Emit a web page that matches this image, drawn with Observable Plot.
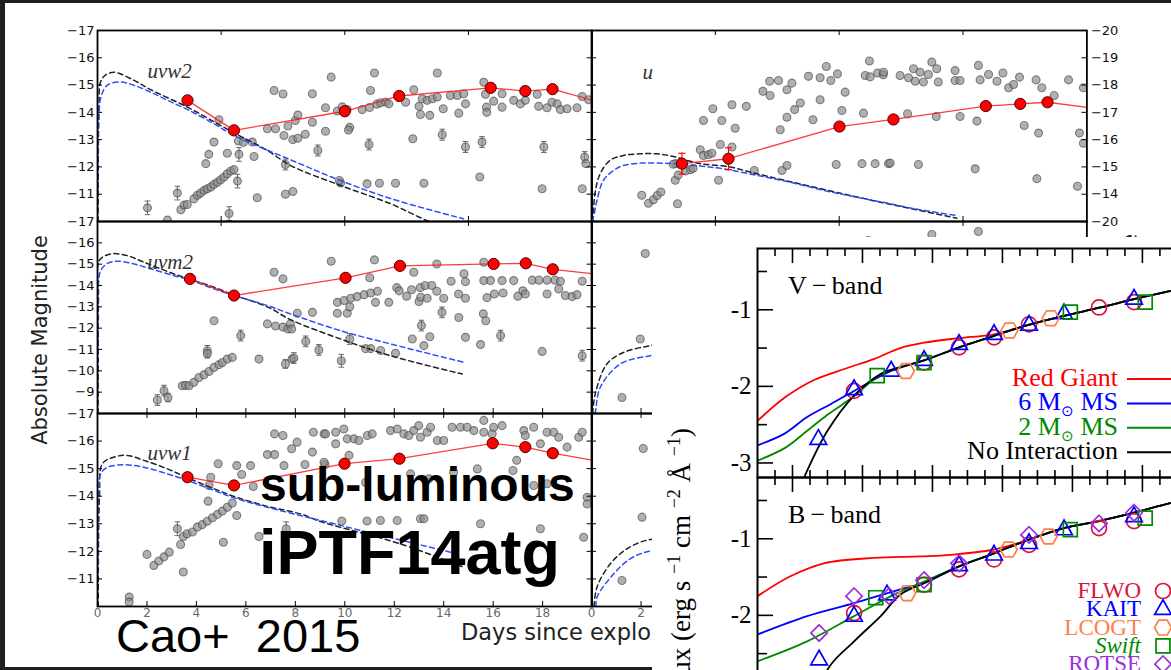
<!DOCTYPE html>
<html>
<head>
<meta charset="utf-8">
<script src="https://cdn.jsdelivr.net/npm/d3@7"></script>
<script src="https://cdn.jsdelivr.net/npm/@observablehq/plot@0.6"></script>
<style>
  html, body { margin:0; padding:0; width:1171px; height:670px; overflow:hidden; background:#1f1f1f; }
  #stage { position:absolute; left:0; top:0; width:1171px; height:670px; overflow:hidden; }
  #slide { position:absolute; left:5px; top:3px; width:1166px; height:664px; background:#fff; z-index:0; }
  #inset { position:absolute; left:652px; top:237px; width:519px; height:433px; background:#fff; z-index:10; }
</style>
</head>
<body>
<div id="stage"><div id="slide"></div><div id="inset"></div></div>
<script>
// ===================== DATA =====================
// Swift UVOT light curves: [days since explosion, absolute magnitude, (error)]
const uvw2Grey = [
[2.02,-10.5,0.25],[2.83,-10.05],[3.23,-11.04,0.25],[3.37,-10.43],[3.5,-10.6],[3.63,-10.62],
[3.9,-10.83],[4.04,-10.96],[4.17,-11.04],[4.31,-11.14],[4.44,-11.2],[4.58,-11.26],[4.71,-11.36],[4.85,-11.44],[4.98,-11.53],[5.12,-11.63],[5.25,-11.75],[5.39,-11.85],[5.52,-11.9],
[4.38,-12.12],[4.5,-12.46],[4.71,-12.91],[4.91,-13.73],[5.25,-12.5],[5.32,-10.29,0.25],[5.66,-11.48,0.25],[5.72,-12.46,0.25],[5.7,-12.95],[5.9,-12.9],[6.26,-12.91],[6.33,-12.38],[6.46,-10.87],
[6.87,-13.4],[7.2,-13.4],[7.14,-14.8],[7.5,-14.67],[7.54,-13.15],[7.7,-13.5],[8.0,-13.7],[7.9,-13.0],[8.1,-13.05],[7.6,-12.09,0.2],[7.6,-11.0],[7.9,-11.1],
[8.1,-13.9],[8.4,-13.2],[8.69,-14.68],[8.69,-13.64],[8.91,-12.6,0.2],[9.22,-14.17],[9.22,-13.31],[9.45,-15.29],[9.7,-14.05],[9.9,-14.2],[10.1,-14.1],[9.83,-11.41],[9.78,-11.5],[10.2,-13.45],[10.15,-13.35],
[10.7,-14.1],[11.0,-14.18],[11.3,-14.3],[11.45,-14.35],[11.65,-14.38],[10.9,-11.38],[10.98,-12.82,0.2],[11.04,-14.8],[11.2,-15.44],[11.4,-11.4],[12.05,-11.4],[13.2,-11.4],
[11.78,-14.31],[12.46,-14.37],[12.79,-14.83],[13.0,-14.22],[13.13,-14.5],[13.33,-14.44],[13.54,-14.5],[13.74,-14.56],[13.98,-14.13],[13.06,-13.92],[13.44,-13.89],[12.75,-13.03],[13.74,-15.44],[13.94,-13.18,0.2],
[14.27,-14.62],[14.55,-14.62],[14.81,-14.68],[14.88,-14.31],[14.61,-13.97],[14.88,-12.73,0.2],[15.46,-11.63],[15.55,-12.91,0.2],[15.62,-15.1],[15.69,-14.66],[15.73,-14.19],[15.74,-14.0],
[16.02,-14.41],[16.36,-14.68],[16.36,-14.19],[16.83,-14.44],[17.1,-14.31],[17.3,-14.44],[17.78,-14.66],[17.84,-14.22],[18.18,-14.17],[18.38,-14.37],[18.59,-14.31],[18.72,-14.1],[18.99,-14.13],[19.39,-14.17],
[18.05,-12.73,0.2],[17.98,-11.2],[19.6,-11.2],[19.6,-14.58],[19.86,-14.46],[19.7,-12.36,0.2],[19.75,-12.12]
];
const uvw2Red = [[3.64,-14.44],[5.52,-13.34],[10.0,-14.04],[12.2,-14.6],[15.9,-14.9],[17.3,-14.78],[18.4,-14.85]];
const uvw2RedTail = [21,-14.2];
const uvw2Black = [[0.02,-10],[0.06,-14.2],[0.12,-15.1],[0.3,-15.35],[0.67,-15.47],[1.48,-15.17],[2.15,-14.83],[3.64,-14.19],[4.85,-13.58],[5.52,-13.25],[6.87,-12.6],[7.81,-12.05],[9.83,-11.32],[11.85,-10.65],[13.3,-10.04],[14,-9.8]];
const uvw2Blue = [[0,-10],[0.02,-12.5],[0.06,-14.0],[0.15,-14.6],[0.4,-15.0],[0.94,-15.11],[1.48,-14.99],[2.15,-14.74],[2.83,-14.44],[3.64,-14.1],[4.71,-13.58],[5.52,-13.15],[7.81,-12.26],[9.83,-11.5],[11.85,-10.84],[14.8,-10.1]];

const uvm2Grey = [
[2.42,-8.63,0.25],[2.69,-9.07,0.25],[2.85,-8.75,0.2],[3.43,-9.3],[3.56,-9.32],[3.7,-9.3],[3.9,-9.46],[4.1,-9.69],[4.31,-9.82],[4.51,-9.97],[4.71,-10.16],[4.91,-10.29],[5.05,-10.39],[5.25,-10.55],[5.45,-10.63],
[4.44,-10.94,0.25],[4.44,-10.8,0.2],[4.71,-12.35],[5.79,-11.65,0.25],[6.53,-10.55],[7.14,-14.62],[7.5,-14.31],[6.87,-12.2],[7.2,-12.1],[7.5,-12.05],[7.7,-11.96],[7.8,-12.2],[7.6,-10.32,0.2],[7.87,-10.55],
[8.08,-12.7],[7.85,-11.96],[8.69,-12.74],[7.94,-10.6,0.25],[8.42,-11.38,0.25],[8.95,-10.98,0.25],[9.45,-15.14],[9.7,-13.21],[9.97,-13.3],[10.24,-13.4],[10.5,-13.48],[10.78,-13.57],[11.05,-13.65],[11.32,-13.73],
[9.7,-12.7],[10.1,-12.7],[10.2,-13.0],[9.86,-10.47,0.3],[10.2,-11.49,0.25],[11.01,-14.36],[11.2,-15.2],[11.24,-13.21],[11.78,-13.21],[10.84,-11.04],[11.05,-11.04],[11.45,-10.95],[12.05,-10.82],
[12.1,-13.9],[12.2,-13.75],[12.5,-13.5],[12.7,-13.8],[13.05,-13.9],[13.25,-14.0],[13.52,-14.0],[12.79,-14.62],[13.0,-13.25],[13.07,-13.45],[13.33,-13.4],[12.73,-11.49],[13.1,-12.12,0.25],[13.2,-11.18],[13.44,-11.6],
[13.72,-15.01],[13.72,-13.73],[13.93,-12.74,0.25],[14.0,-13.4],[14.3,-14.2],[14.88,-14.18],[14.82,-14.55],[14.6,-13.6],[14.88,-13.4],[14.61,-12.5],[14.88,-11.57],[15.49,-11.23],[15.6,-12.67],[15.7,-12.35],
[15.62,-15.09],[15.62,-14.23],[15.89,-14.23],[16.36,-14.23],[16.83,-14.23],[15.75,-13.43],[16.05,-13.6],[16.4,-13.65],[16.3,-11.65,0.25],[17.0,-13.5],[17.2,-13.75],[17.3,-13.6],
[17.58,-14.25],[17.85,-14.25],[18.18,-14.25],[18.5,-14.25],[18.72,-14.2],[18.65,-13.84],[18.92,-13.53],[19.19,-13.48],[19.39,-13.57],[19.6,-14.2],[17.98,-10.91],[18.18,-13.6],[19.6,-10.71,0.25]
];
const uvm2Red = [[3.74,-14.31],[5.52,-13.53],[10.03,-14.36],[12.23,-14.92],[16.02,-15.01],[17.32,-15.04],[18.41,-14.76]];
const uvm2RedTail = [21,-14.43];
const uvm2Black = [[0.02,-8],[0.04,-13.5],[0.07,-15.17],[0.54,-15.48],[1.2,-15.4],[1.88,-15.09],[3.1,-14.54],[4.71,-13.92],[5.52,-13.55],[6.87,-13.0],[7.8,-12.4],[9.83,-11.49],[11.85,-10.71],[14.75,-9.85]];
const uvm2Blue = [[0,-8],[0.02,-11.5],[0.05,-14.23],[0.13,-14.7],[0.4,-15.04],[0.8,-15.14],[1.48,-15.01],[2.15,-14.78],[3.1,-14.46],[3.74,-14.26],[4.71,-13.84],[5.52,-13.53],[6.87,-13.06],[7.8,-12.67],[9.83,-11.88],[11.85,-11.26],[14.81,-10.4]];

const uvw1Grey = [
[1.28,-10.34],[1.28,-10.16],[2.0,-11.89],[2.28,-11.49],[2.48,-11.65],[2.69,-11.8],[2.9,-11.97],[3.23,-12.82,0.25],[3.36,-12.25],[3.47,-11.25],[3.47,-12.54],
[3.62,-12.64],[3.84,-12.7],[4.04,-12.88],[4.24,-12.97],[4.44,-13.09],[4.65,-13.22],[4.85,-13.34],[5.05,-13.46],[5.25,-13.6],[5.45,-13.75],
[4.47,-13.82],[4.51,-14.39],[4.58,-14.69],[4.88,-15.18],[5.09,-12.33],[5.63,-15.11],[5.63,-13.3],[5.83,-14.79],[6.19,-15.11],[6.3,-14.35],[6.53,-12.54],[6.87,-15.51],[7.16,-15.51],[7.16,-16.26],[7.5,-16.2],
[7.54,-15.11],[7.63,-12.82,0.25],[7.85,-15.72],[8.07,-15.96],[8.39,-15.15],[8.69,-15.6],[8.73,-16.32],[9.16,-16.26],[9.2,-15.15],
[9.22,-16.26],[9.63,-16.32],[9.63,-15.9],[9.96,-16.44],[10.1,-16.08],[10.37,-16.08],[10.57,-16.02],[10.91,-16.2],[11.11,-16.26],[11.85,-16.38],[12.12,-16.44],[12.39,-16.26],[12.59,-16.2],[12.79,-16.38],
[12.99,-16.56],[13.06,-16.14],[13.33,-16.32],[13.47,-16.5],[13.74,-16.02],[14.0,-16.02],[14.34,-16.5],[14.68,-16.5],[14.95,-16.5],[15.22,-16.38],[15.62,-16.75],[15.62,-16.32],[15.96,-16.26],[16.02,-16.5],
[16.36,-16.56],[17.24,-16.38],[17.3,-16.2],[17.64,-16.5],[17.91,-15.9],[18.18,-16.32],[18.45,-16.32],[18.65,-16.14],[18.99,-15.78],[19.46,-16.14],[19.6,-16.32],
[9.16,-15.23],[10.17,-15.48],[12.66,-14.81],[13.4,-14.63],[13.06,-13.18],[9.88,-13.1],[10.9,-13.1],[11.44,-13.12],[12.12,-13.12],[13.2,-13.18],[15.49,-13.0],[17.91,-12.82],[19.66,-12.51],
[17.64,-14.39],[18.18,-14.45],[19.8,-13.96],[19.8,-13.72],[16.8,-14.93],[16.95,-15.3],[15.36,-14.99],[14.4,-14.87],[10.84,-14.5]
];
const uvw1Red = [[3.64,-14.69],[5.52,-14.39],[9.99,-15.18],[12.21,-15.36],[15.98,-15.92],[17.3,-15.78],[18.41,-15.56]];
const uvw1RedTail = [21,-15.15];
const uvw1Black = [[0.03,-10],[0.08,-14.0],[0.2,-15.18],[0.67,-15.42],[1.2,-15.48],[1.88,-15.3],[2.83,-14.99],[3.64,-14.67],[4.71,-14.27],[5.52,-13.99],[6.87,-13.63],[8.2,-13.36],[9.02,-13.08],[12.25,-12.27],[14.8,-11.43]];
const uvw1Blue = [[0,-10],[0.02,-12.5],[0.05,-14.09],[0.13,-14.81],[0.4,-15.05],[1.07,-15.14],[1.88,-15.05],[2.83,-14.81],[3.64,-14.57],[4.71,-14.21],[5.52,-13.94],[6.87,-13.6],[8.2,-13.3],[9.02,-13.12],[10.37,-12.82],[14.27,-11.97]];

const uGrey = [
[2.03,-13.96],[2.3,-13.67],[2.5,-13.8],[2.65,-13.95],[2.8,-14.08],[3.47,-13.65],[3.38,-14.51],[3.4,-15.12],[3.3,-15.1],[3.5,-14.7],[3.8,-14.85],[4.0,-14.9],[4.1,-14.95],
[4.39,-15.63],[4.52,-15.42],[4.72,-15.45],[4.86,-15.5],[4.52,-16.7],[4.9,-17.13],[5.26,-16.7],[5.2,-15.82],[5.13,-14.51],[5.67,-17.28],[5.8,-16.42],[5.67,-15.73],[6.25,-17.22],[6.57,-14.87],
[6.92,-17.77],[7.19,-18.14],[7.55,-18.17],[7.21,-17.62],[7.62,-16.36],[7.69,-14.87],[7.89,-15.05],[7.89,-17.83],[8.09,-18.07],[7.89,-16.82],[8.2,-17.1],[8.43,-17.34],[8.76,-18.32],[8.94,-16.73],
[9.23,-18.27],[9.23,-17.46],[9.48,-18.68],[9.66,-18.17],[9.93,-18.41],[9.88,-15.09],[10.11,-17.07],[10.24,-17.74],[10.92,-15.12],[11.45,-15.12],[11.99,-15.12],[10.98,-16.97],[11.22,-18.88],
[11.05,-18.35],[11.25,-18.3],[11.55,-18.44],[11.78,-18.38],[11.79,-18.47],[12.06,-15.14],[12.46,-18.35],[12.8,-18.27],[13.0,-18.6],[13.27,-18.47],[13.07,-18.14],[13.4,-18.11],[13.6,-18.39],
[13.74,-18.84],[13.94,-18.6],[14.0,-18.11],[12.76,-16.95],[13.2,-15.09],[13.92,-16.85],[14.68,-18.53],[14.68,-18.17],[14.88,-18.17],[14.88,-16.85],[15.49,-14.93],[15.56,-16.68],[15.62,-18.72],
[15.69,-18.19],[16.03,-18.39],[16.37,-18.14],[16.61,-18.44],[16.84,-17.9],[17.04,-18.02],[17.28,-18.29],[17.47,-16.52],[17.95,-18.19],[18.18,-17.9],[18.05,-16.24],[17.98,-14.57],[18.68,-17.62],
[19.26,-18.19],[19.62,-14.29],[19.7,-16.24],[19.86,-17.9],[19.86,-15.87]
];
const uRed = [[3.65,-15.12],[5.53,-15.3],[10.01,-16.48],[12.19,-16.74],[15.92,-17.23],[17.31,-17.31],[18.41,-17.37]];
const uRedErr = [[3.65,-15.12,0.38],[5.53,-15.3,0.4]];
const uRedTail = [21,-17.06];
const uBlack = [[0.05,-13],[0.15,-14.08],[0.35,-14.75],[0.75,-15.24],[1.29,-15.42],[1.97,-15.48],[2.64,-15.48],[3.31,-15.38],[4.39,-15.12],[5.6,-15.0],[6.41,-14.81],[8.02,-14.46],[10.71,-13.9],[12.06,-13.63],[14.75,-13.12]];
const uBlue = [[0.03,-13],[0.08,-13.16],[0.22,-13.77],[0.48,-14.51],[0.89,-14.87],[1.29,-15.05],[1.97,-15.14],[2.64,-15.14],[3.31,-15.12],[4.39,-15.03],[5.33,-14.93],[6.68,-14.69],[8.02,-14.44],[9.37,-14.14],[10.71,-13.89],[12.06,-13.65],[13.0,-13.47],[14.75,-13.22]];

// partially hidden panels of the original figure (right column, rows 2 and 3)
const r2Grey = [[11.18,-19.11],[13.74,-19.39],[15.62,-19.53],[2.17,-18.5],[1.23,-11.75],[1.97,-14.49]];
const r2Black = [[0.05,-11],[0.15,-11.91],[0.62,-13.32],[1.29,-13.86],[2.37,-14.18],[3.5,-14.4]];
const r2Blue = [[0.12,-11],[0.15,-11.05],[0.35,-12.22],[1.16,-13.32],[2.37,-13.71],[3.5,-13.9]];
const r3Grey = [[1.23,-13.94],[2.04,-16.24],[2.09,-18.73]];
const r3Black = [[0.1,-13],[0.22,-13.7],[0.76,-14.55],[1.43,-15.09],[2.17,-15.39],[3,-15.5]];
const r3Blue = [[0.18,-13],[0.22,-13.34],[0.9,-14.19],[1.56,-14.73],[2.17,-14.97],[3,-15.1]];

// axis ticks
const dayTicks5 = [5,10,15];
const dayTicks2 = [2,4,6,8,10,12,14,16,18];
const dayLabels = [0,2,4,6,8,10,12,14,16,18];
const dayLabelsVisibleR3 = [0,2];
const magTicks10 = [-17,-16,-15,-14,-13,-12,-11,-10];
const magLabels10 = [-17,-16,-15,-14,-13,-12,-11];
const magTicks8 = [-17,-16,-15,-14,-13,-12,-11,-10,-9,-8];
const magLabels8 = [-17,-16,-15,-14,-13,-12,-11,-10,-9];
const magTicksR13 = [-20,-19,-18,-17,-16,-15,-14,-13];
const magLabelsR13 = [-20,-19,-18,-17,-16,-15,-14];
const magTicksR11 = [-20,-19,-18,-17,-16,-15,-14,-13,-12,-11];
const magLabelsR2Visible = [-20];

// inset (model comparison): [day, log flux]
const vRed   = [[0.5,-2.45],[0.9,-2.14],[1.3,-1.92],[1.75,-1.77],[2.17,-1.64],[2.54,-1.5],[2.88,-1.43],[3.38,-1.37],[3.88,-1.32],[4.36,-1.2],[4.88,-1.08],[5.4,-0.97],[5.88,-0.86],[6.42,-0.75],[6.9,-0.65]];
const vBlue  = [[0.5,-2.77],[0.88,-2.62],[1.21,-2.4],[1.55,-2.23],[1.88,-2.06],[2.41,-1.8],[2.88,-1.66],[3.38,-1.49],[3.88,-1.34],[4.36,-1.2],[4.88,-1.08],[5.4,-0.97],[5.88,-0.86],[6.42,-0.75],[6.9,-0.65]];
const vGreen = [[0.5,-2.97],[0.9,-2.8],[1.21,-2.58],[1.5,-2.37],[1.88,-2.13],[2.26,-1.84],[2.54,-1.75],[2.88,-1.66],[3.38,-1.49],[3.88,-1.34],[4.36,-1.2],[4.88,-1.08],[5.4,-0.97],[5.88,-0.86],[6.42,-0.75],[6.9,-0.65]];
const vBlack = [[1.12,-3.3],[1.21,-3.1],[1.5,-2.58],[1.88,-2.12],[2.26,-1.84],[2.54,-1.75],[2.88,-1.66],[3.38,-1.49],[3.88,-1.34],[4.36,-1.2],[4.88,-1.08],[5.4,-0.97],[5.88,-0.86],[6.42,-0.75],[6.9,-0.65]];
const vFLWO  = [[1.88,-2.06],[2.88,-1.69],[3.38,-1.49],[3.88,-1.36],[4.38,-1.19],[5.38,-0.97],[5.88,-0.9]];
const vKAIT  = [[1.37,-2.69],[1.88,-2.04],[2.41,-1.8],[2.88,-1.66],[3.38,-1.45],[3.88,-1.32],[4.38,-1.2],[4.88,-1.05],[5.88,-0.86]];
const vLCOGT = [[2.62,-1.8],[4.1,-1.27],[4.69,-1.11]];
const vSwift = [[2.21,-1.86],[2.88,-1.69],[4.97,-1.03],[6.04,-0.9]];
const vROTSE = [];

const bRed   = [[0.5,-1.75],[0.97,-1.49],[1.45,-1.32],[2.16,-1.25],[2.83,-1.23],[3.26,-1.21],[3.88,-1.14],[4.21,-1.06],[4.38,-1.01],[4.88,-0.86],[5.38,-0.77],[5.88,-0.66],[6.41,-0.53],[6.9,-0.43]];
const bBlue  = [[0.5,-2.25],[1.21,-2.01],[1.88,-1.84],[2.54,-1.66],[2.88,-1.58],[3.38,-1.36],[3.88,-1.19],[4.38,-1.01],[4.88,-0.86],[5.38,-0.77],[5.88,-0.66],[6.41,-0.53],[6.9,-0.43]];
const bGreen = [[0.5,-2.6],[1.21,-2.34],[1.88,-2.01],[2.45,-1.73],[2.83,-1.58],[3.38,-1.36],[3.88,-1.19],[4.38,-1.01],[4.88,-0.86],[5.38,-0.77],[5.88,-0.66],[6.41,-0.53],[6.9,-0.43]];
const bBlack = [[1.36,-3.3],[1.5,-2.71],[1.88,-2.34],[2.26,-2.01],[2.54,-1.73],[2.88,-1.58],[3.38,-1.36],[3.88,-1.19],[4.38,-1.01],[4.88,-0.86],[5.38,-0.77],[5.88,-0.66],[6.41,-0.53],[6.9,-0.43]];
const bFLWO  = [[1.88,-1.97],[2.88,-1.6],[3.38,-1.4],[3.88,-1.27],[4.38,-1.08],[5.38,-0.86],[5.88,-0.77]];
const bKAIT  = [[1.38,-2.58],[1.88,-2.01],[2.35,-1.73],[3.38,-1.35],[3.88,-1.21],[4.38,-1.06],[4.88,-0.88],[5.88,-0.71]];
const bLCOGT = [[2.64,-1.71],[4.09,-1.14],[4.66,-0.97]];
const bSwift = [[2.19,-1.77],[2.88,-1.6],[4.97,-0.88],[6.04,-0.73]];
const bROTSE = [[1.38,-2.23],[1.88,-1.75],[2.38,-1.75],[2.88,-1.54],[3.38,-1.32],[4.38,-0.95],[5.38,-0.8],[5.88,-0.66]];

const insetXMajor = [1,2,3,4,5,6];
const insetXMinor = [0.75,1.25,1.5,1.75,2.25,2.5,2.75,3.25,3.5,3.75,4.25,4.5,4.75,5.25,5.5,5.75,6.25,6.5,6.75];
const insetYMajor = [-1,-2,-3];
const insetYMinor = [-0.5,-1.5,-2.5];

const modelLabels = [["Red Giant"],["6 M","\u2299"," MS"],["2 M","\u2299"," MS"],["No Interaction"]];
const modelColors = ["#ff0000","#0000ff","#008a00","#000000"];
const surveyLabels = ["FLWO","KAIT","LCOGT","Swift","ROTSE"];
const surveyColors = ["#dc143c","#0000ff","#ff7f4a","#008a00","#9b30d9"];

// ===================== RENDERING =====================
const stage = document.getElementById("stage");
function mount(node, left, top, z) {
  node.style.position = "absolute";
  node.style.left = left + "px";
  node.style.top = top + "px";
  node.style.zIndex = z;
  node.style.maxWidth = "none";
  stage.appendChild(node);
}
function panel(x0, y0, x1, y1, xDomain, yDomain, makeMarks, z = 1) {
  const mL = 80, mR = 80, mT = 20, mB = 40;
  const w = x1 - x0, h = y1 - y0;
  const svg = Plot.plot({
    width: w + mL + mR, height: h + mT + mB,
    marginLeft: mL, marginRight: mR, marginTop: mT, marginBottom: mB,
    x: {domain: xDomain, axis: null},
    y: {domain: yDomain, axis: null},
    style: {background: "transparent", overflow: "visible", maxWidth: "none"},
    marks: makeMarks(w, h)
  });
  mount(svg, x0 - mL, y0 - mT, z);
}
const fmt = d => (d < 0 ? "\u2212" : "") + Math.abs(d);
const px = d => d[0], py = d => d[1];
const capSymbol = {draw(ctx, size) { const r = Math.sqrt(size / Math.PI); ctx.moveTo(-r, 0); ctx.lineTo(r, 0); }};
const symCircle = {draw(ctx, size) { const r = Math.sqrt(size / Math.PI); ctx.moveTo(r, 0); ctx.arc(0, 0, r, 0, 2 * Math.PI); }};
const symTriangle = {draw(ctx, size) { const r = Math.sqrt(size / Math.PI); ctx.moveTo(0, -r * 1.15); ctx.lineTo(r, r * 0.62); ctx.lineTo(-r, r * 0.62); ctx.closePath(); }};
const symHex = {draw(ctx, size) { const r = Math.sqrt(size / Math.PI), a = r / 2, b = r * 0.87; ctx.moveTo(r, 0); ctx.lineTo(a, b); ctx.lineTo(-a, b); ctx.lineTo(-r, 0); ctx.lineTo(-a, -b); ctx.lineTo(a, -b); ctx.closePath(); }};
const symSquare = {draw(ctx, size) { const r = Math.sqrt(size / Math.PI) * 0.85; ctx.rect(-r, -r, 2 * r, 2 * r); }};
const symDiamond = {draw(ctx, size) { const r = Math.sqrt(size / Math.PI); ctx.moveTo(0, -r); ctx.lineTo(r, 0); ctx.lineTo(0, r); ctx.lineTo(-r, 0); ctx.closePath(); }};
const surveySymbols = [symCircle, symTriangle, symHex, symSquare, symDiamond];
const surveyR = [7.5, 8.3, 8.5, 8.2, 8.2];

function lcPanel(c) {
  panel(c.x0, c.y0, c.x1, c.y1, [0, 20], c.yDomain, (w, h) => {
    const grey = c.grey || [];
    const errs = grey.filter(d => d.length > 2);
    const caps = errs.flatMap(d => [[d[0], d[1] - d[2]], [d[0], d[1] + d[2]]]);
    const m = [
      Plot.ruleX(errs, {x: px, y1: d => d[1] - d[2], y2: d => d[1] + d[2], stroke: "#666", strokeWidth: 1, clip: true}),
      Plot.dot(caps, {x: px, y: py, symbol: capSymbol, r: 2.8, fill: "none", stroke: "#666", strokeWidth: 1, clip: true}),
      Plot.dot(grey, {x: px, y: py, r: 4, fill: "#8a8a8a", fillOpacity: 0.68, stroke: "#333", strokeOpacity: 0.55, strokeWidth: 1.1, clip: true}),
      Plot.line(c.black, {x: px, y: py, stroke: "#222", strokeWidth: 1.5, strokeDasharray: "5,3.5", curve: "catmull-rom", clip: true}),
      Plot.line(c.blue, {x: px, y: py, stroke: "#2d4dff", strokeWidth: 1.5, strokeDasharray: "5,3.5", curve: "catmull-rom", clip: true})
    ];
    if (c.red) {
      if (c.redErr) {
        const rc = c.redErr.flatMap(d => [[d[0], d[1] - d[2]], [d[0], d[1] + d[2]]]);
        m.push(Plot.ruleX(c.redErr, {x: px, y1: d => d[1] - d[2], y2: d => d[1] + d[2], stroke: "#ff0000", strokeWidth: 1.2}));
        m.push(Plot.dot(rc, {x: px, y: py, symbol: capSymbol, r: 3.5, fill: "none", stroke: "#ff0000", strokeWidth: 1.2}));
      }
      m.push(Plot.line([...c.red, c.redTail], {x: px, y: py, stroke: "#ff1a1a", strokeOpacity: 0.85, strokeWidth: 1.3, clip: true}));
      m.push(Plot.dot(c.red, {x: px, y: py, r: 5.6, fill: "#ff0000", stroke: "#4a0000", strokeWidth: 1, clip: true}));
    }
    m.push(Plot.frame({stroke: "#000", strokeWidth: 1.8}));
    m.push(Plot.tickY(c.ticks, {y: d => d, insetRight: w - 5, stroke: "#000"}));
    m.push(Plot.tickY(c.ticks, {y: d => d, insetLeft: w - 5, stroke: "#000"}));
    m.push(Plot.tickX(c.topTicks, {x: d => d, insetBottom: h - 5, stroke: "#000"}));
    m.push(Plot.tickX(c.bottomTicks, {x: d => d, insetTop: h - 5, stroke: "#000"}));
    const right = c.labelSide === "right";
    if (c.labels && c.labels.length) m.push(Plot.text(c.labels, {y: d => d, frameAnchor: right ? "right" : "left", dx: right ? 4 : -3, textAnchor: right ? "start" : "end",
      text: fmt, fontFamily: "DejaVu Sans", fontSize: 13, fill: "#111"}));
    if (c.xLabels) m.push(Plot.text(c.xLabels, {x: d => d, frameAnchor: "bottom", dy: 11, text: d => String(d), fontFamily: "DejaVu Sans", fontSize: 12, fill: "#666"}));
    if (c.name) m.push(Plot.text([c.name], {frameAnchor: "top-left", dx: c.nameDx, dy: c.nameDy, text: d => d, textAnchor: "start",
      fontFamily: "Liberation Serif", fontStyle: "italic", fontSize: 21, fill: "#333"}));
    return m;
  });
}

const XL0 = 96.7, XM = 591.3, XR1 = 1086.7;
const Y0 = 30, Y1 = 221, Y2 = 413, Y3 = 606;

lcPanel({x0: XL0, x1: XM, y0: Y0, y1: Y1, yDomain: [-10, -17], grey: uvw2Grey, red: uvw2Red, redTail: uvw2RedTail, black: uvw2Black, blue: uvw2Blue,
  ticks: magTicks10, labels: magLabels10, topTicks: dayTicks5, bottomTicks: dayTicks5, name: "uvw2", nameDx: 50, nameDy: 33});
lcPanel({x0: XL0, x1: XM, y0: Y1, y1: Y2, yDomain: [-8, -17], grey: uvm2Grey, red: uvm2Red, redTail: uvm2RedTail, black: uvm2Black, blue: uvm2Blue,
  ticks: magTicks8, labels: magLabels8, topTicks: dayTicks5, bottomTicks: dayTicks2, name: "uvm2", nameDx: 50, nameDy: 33});
lcPanel({x0: XL0, x1: XM, y0: Y2, y1: Y3, yDomain: [-10, -17], grey: uvw1Grey, red: uvw1Red, redTail: uvw1RedTail, black: uvw1Black, blue: uvw1Blue,
  ticks: magTicks10, labels: magLabels10, topTicks: dayTicks2, bottomTicks: dayTicks2, xLabels: dayLabels, name: "uvw1", nameDx: 50, nameDy: 32});
lcPanel({x0: XM, x1: XR1, y0: Y0, y1: Y1, yDomain: [-13, -20], grey: uGrey, red: uRed, redErr: uRedErr, redTail: uRedTail, black: uBlack, blue: uBlue,
  ticks: magTicksR13, labels: magLabelsR13, labelSide: "right", topTicks: dayTicks5, bottomTicks: dayTicks5, name: "u", nameDx: 51, nameDy: 34});
lcPanel({x0: XM, x1: XR1, y0: Y1, y1: Y2, yDomain: [-11, -20], grey: r2Grey, black: r2Black, blue: r2Blue,
  ticks: magTicksR11, labels: magLabelsR2Visible, labelSide: "right", topTicks: dayTicks5, bottomTicks: dayTicks2});
lcPanel({x0: XM, x1: XR1, y0: Y2, y1: Y3, yDomain: [-13, -20], grey: r3Grey, black: r3Black, blue: r3Blue,
  ticks: magTicksR13, labels: [], labelSide: "right", topTicks: dayTicks2, bottomTicks: dayTicks2, xLabels: dayLabelsVisibleR3});

// text layer under the inset
function layer(z) {
  const s = d3.create("svg").attr("width", 1171).attr("height", 670);
  mount(s.node(), 0, 0, z);
  s.style("pointer-events", "none");
  return s;
}
const A = layer(5);
A.append("text").attr("transform", "translate(47,340) rotate(-90)").attr("text-anchor", "middle")
  .attr("font-family", "DejaVu Sans").attr("font-size", 21).attr("fill", "#222").text("Absolute Magnitude");
A.append("text").attr("transform", "translate(1137,341) rotate(-90)").attr("text-anchor", "middle")
  .attr("font-family", "DejaVu Sans").attr("font-size", 21).attr("fill", "#222").text("Apparent Magnitude");
A.append("text").attr("x", 461).attr("y", 640).attr("font-family", "DejaVu Sans").attr("font-size", 22.5).attr("fill", "#222").text("Days since explosion");

// inset panels
const insetXDomain = [0.5, 6.83], insetYDomain = [-3.19, -0.2];
function insetPanel(y0, y1, d) {
  panel(757, y0, 1200, y1, insetXDomain, insetYDomain, (w, h) => {
    const m = [
      Plot.line(d.red, {x: px, y: py, stroke: "#ff0000", strokeWidth: 1.8, curve: "catmull-rom", clip: true}),
      Plot.line(d.blue, {x: px, y: py, stroke: "#0000ff", strokeWidth: 1.8, curve: "catmull-rom", clip: true}),
      Plot.line(d.green, {x: px, y: py, stroke: "#008a00", strokeWidth: 1.8, curve: "catmull-rom", clip: true}),
      Plot.line(d.black, {x: px, y: py, stroke: "#000", strokeWidth: 1.8, curve: "catmull-rom", clip: true})
    ];
    d.markers.forEach((arr, i) => m.push(Plot.dot(arr, {x: px, y: py, symbol: surveySymbols[i], r: surveyR[i], fill: "none",
      stroke: surveyColors[i], strokeWidth: 1.7, clip: true})));
    m.push(Plot.frame({stroke: "#000", strokeWidth: 2}));
    m.push(Plot.tickY(insetYMajor, {y: v => v, insetRight: w - 16, strokeWidth: 1.6}));
    m.push(Plot.tickY(insetYMinor, {y: v => v, insetRight: w - 10, strokeWidth: 1.6}));
    m.push(Plot.tickX(insetXMajor, {x: v => v, insetBottom: h - 15, strokeWidth: 1.6}));
    m.push(Plot.tickX(insetXMajor, {x: v => v, insetTop: h - 12, strokeWidth: 1.6}));
    m.push(Plot.tickX(insetXMinor, {x: v => v, insetBottom: h - 8, strokeWidth: 1.6}));
    m.push(Plot.tickX(insetXMinor, {x: v => v, insetTop: h - 7, strokeWidth: 1.6}));
    m.push(Plot.text(insetYMajor, {y: v => v, frameAnchor: "left", dx: -6, textAnchor: "end", text: v => "-" + Math.abs(v),
      fontFamily: "Liberation Serif", fontSize: 25, fill: "#000"}));
    return m;
  }, 11);
}
insetPanel(248, 477, {red: vRed, blue: vBlue, green: vGreen, black: vBlack, markers: [vFLWO, vKAIT, vLCOGT, vSwift, vROTSE]});
insetPanel(477, 706, {red: bRed, blue: bBlue, green: bGreen, black: bBlack, markers: [bFLWO, bKAIT, bLCOGT, bSwift, bROTSE]});

// text layer above everything
const B = layer(20);
const serif = "Liberation Serif";
B.append("text").attr("x", 788).attr("y", 294).attr("font-family", serif).attr("font-size", 26).text("V\u2009\u2212\u2009band");
B.append("text").attr("x", 788).attr("y", 523).attr("font-family", serif).attr("font-size", 26).text("B\u2009\u2212\u2009band");
// inset y label
const yl = B.append("text").attr("transform", "translate(690,428) rotate(-90)").attr("text-anchor", "end")
  .attr("font-family", serif).attr("font-size", 27).attr("fill", "#000");
yl.append("tspan").text("Flux (erg s ");
yl.append("tspan").attr("dy", -10).attr("font-size", 18).text("\u22121");
yl.append("tspan").attr("dy", 10).text(" cm ");
yl.append("tspan").attr("dy", -10).attr("font-size", 18).text("\u22122");
yl.append("tspan").attr("dy", 10).text(" \u00c5 ");
yl.append("tspan").attr("dy", -10).attr("font-size", 18).text("\u22121");
yl.append("tspan").attr("dy", 10).text(")");
// model legend
modelLabels.forEach((parts, i) => {
  const base = 386 + i * 24.4;
  const t = B.append("text").attr("x", 1118).attr("y", base).attr("text-anchor", "end").attr("font-family", serif)
    .attr("font-size", 26).attr("fill", modelColors[i]);
  if (parts.length === 1) t.text(parts[0]);
  else {
    t.append("tspan").text(parts[0]);
    t.append("tspan").attr("dy", 6).attr("font-size", 15).text(parts[1]);
    t.append("tspan").attr("dy", -6).text(parts[2]);
  }
  B.append("line").attr("x1", 1127).attr("x2", 1175).attr("y1", base - 7).attr("y2", base - 7)
    .attr("stroke", modelColors[i]).attr("stroke-width", 2);
});
// survey legend
surveyLabels.forEach((lab, i) => {
  const base = 598 + i * 18.3;
  B.append("text").attr("x", 1141).attr("y", base).attr("text-anchor", "end").attr("font-family", serif)
    .attr("font-size", 23).attr("font-style", lab === "Swift" ? "italic" : "normal").attr("fill", surveyColors[i]).text(lab);
  B.append("path").attr("transform", `translate(1163,${base - 7})`)
    .attr("d", d3.symbol().type(surveySymbols[i]).size(Math.PI * surveyR[i] * surveyR[i])())
    .attr("fill", "none").attr("stroke", surveyColors[i]).attr("stroke-width", 1.7);
});
// slide annotations
B.append("text").attr("x", 260).attr("y", 501).attr("font-family", "Liberation Sans").attr("font-weight", "bold")
  .attr("font-size", 48).attr("fill", "#000").text("sub-luminous");
B.append("text").attr("x", 259).attr("y", 574).attr("font-family", "Liberation Sans").attr("font-weight", "bold")
  .attr("font-size", 63).attr("fill", "#000").text("iPTF14atg");
B.append("text").attr("x", 116).attr("y", 652).attr("font-family", "Liberation Sans").attr("font-size", 47)
  .attr("fill", "#000").attr("xml:space", "preserve").style("white-space", "pre").text("Cao+  2015");
</script>
</body>
</html>
